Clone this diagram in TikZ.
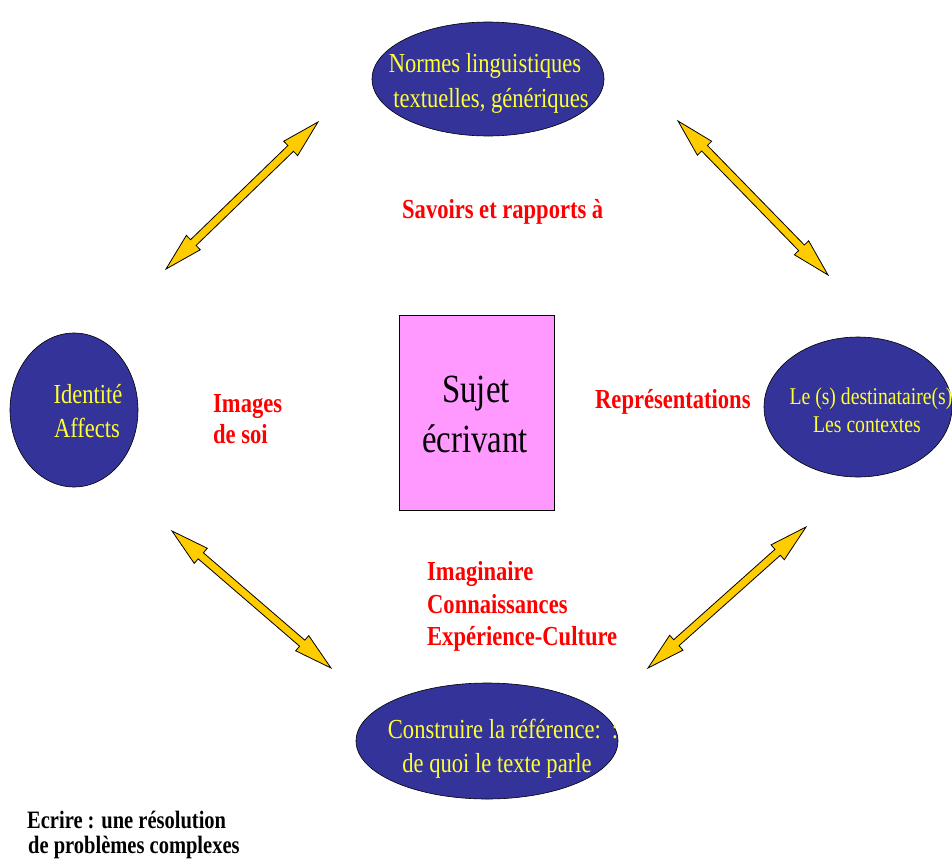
\documentclass[tikz,border=0pt]{standalone}
\usepackage{fontspec}
\setmainfont{Liberation Serif}[FakeStretch=0.82]
\usetikzlibrary{shapes.geometric,calc}
\definecolor{ellblue}{HTML}{333399}
\definecolor{elltext}{HTML}{FFFF33}
\definecolor{arrowyellow}{HTML}{FFCC00}
\definecolor{boxpink}{HTML}{FF99FF}
\definecolor{labelred}{HTML}{FF0000}
\newcommand{\headlen}{38pt}
\newcommand{\headhw}{10pt}
\newcommand{\shafthw}{4pt}
\newcommand{\biarrow}[2]{%
  \path ($(#1)!\headlen!(#2)$) coordinate (#1-b) ($(#2)!\headlen!(#1)$) coordinate (#2-b);
  \filldraw[arrowbody] (#1) -- ($(#1-b)!\headhw!90:(#1)$) -- ($(#1-b)!\shafthw!90:(#1)$)
    -- ($(#2-b)!\shafthw!-90:(#2)$) -- ($(#2-b)!\headhw!-90:(#2)$) -- (#2)
    -- ($(#2-b)!\headhw!90:(#2)$) -- ($(#2-b)!\shafthw!90:(#2)$)
    -- ($(#1-b)!\shafthw!-90:(#1)$) -- ($(#1-b)!\headhw!-90:(#1)$) -- cycle;
}
\begin{document}
\begin{tikzpicture}[x=1pt,y=-1pt,
  bubble/.style={ellipse, draw=black, line width=0.6pt, fill=ellblue, inner sep=0pt},
  btext/.style={text=elltext, anchor=base, inner sep=0pt, font=\fontsize{27.5}{32}\selectfont},
  rtext/.style={text=labelred, anchor=base west, inner sep=0pt, font=\bfseries\fontsize{27.5}{32}\selectfont},
  ktext/.style={text=black, anchor=base west, inner sep=0pt, font=\bfseries\fontsize{25}{28}\selectfont},
  stext/.style={text=black, anchor=base, inner sep=0pt, font=\fontsize{40}{48}\selectfont},
  arrowbody/.style={fill=arrowyellow, draw=black, line width=0.8pt, line join=miter}]
\useasboundingbox[fill=white] (0,0) rectangle (952,867);

% ellipses
\node[bubble, minimum width=232pt, minimum height=114pt] (normes) at (488,79) {};
\node[bubble, minimum width=128pt, minimum height=154pt] (identite) at (74,410) {};
\node[bubble, minimum width=188pt, minimum height=140pt] (dest) at (858,407) {};
\node[bubble, minimum width=262pt, minimum height=116pt] (ref) at (487,741) {};

% central box
\node[draw=black, line width=0.6pt, fill=boxpink, minimum width=155pt, minimum height=195pt, inner sep=0pt] (sujet) at (476.5,412.5) {};

% ellipse texts
\node[btext] (n1) at (485,73) {Normes linguistiques};
\node[btext] (n2) at (491,107) {textuelles, génériques};
\node[btext] (i1) at (88,403) {Identité};
\node[btext] (i2) at (87,437) {Affects};
\node[btext, font=\fontsize{24}{28}\selectfont] (d1) at (871,404) {Le (s) destinataire(s)};
\node[btext, font=\fontsize{24}{28}\selectfont] (d2) at (867,432) {Les contextes};
\node[btext] (r1) at (503,738) {Construire la référence:\hspace{0.4em}:};
\node[btext] (r2) at (497,772) {de quoi le texte parle};

% central text
\node[stext] (s1) at (476,402) {Sujet};
\node[stext] (s2) at (475,452) {écrivant};

% red labels
\node[rtext] (lab1) at (402,218) {Savoirs et rapports à};
\node[rtext] (lab2) at (213,412) {Images};
\node[rtext] (lab3) at (213,443) {de soi};
\node[rtext] (lab4) at (595,408) {Représentations};
\node[rtext] (lab5) at (427,580) {Imaginaire};
\node[rtext] (lab6) at (427,613) {Connaissances};
\node[rtext] (lab7) at (427,645) {Expérience-Culture};

% bottom caption
\node[ktext] (c1) at (27,828) {Ecrire : une résolution};
\node[ktext] (c2) at (28,853) {de problèmes complexes};

% double arrows
\coordinate (a1s) at (166,269);
\coordinate (a1e) at (318,122);
\coordinate (a2s) at (678,121);
\coordinate (a2e) at (828,275);
\coordinate (a3s) at (172,531);
\coordinate (a3e) at (331,668);
\coordinate (a4s) at (648,668);
\coordinate (a4e) at (806,527);
\biarrow{a1s}{a1e}
\biarrow{a2s}{a2e}
\biarrow{a3s}{a3e}
\biarrow{a4s}{a4e}
\end{tikzpicture}
\end{document}
